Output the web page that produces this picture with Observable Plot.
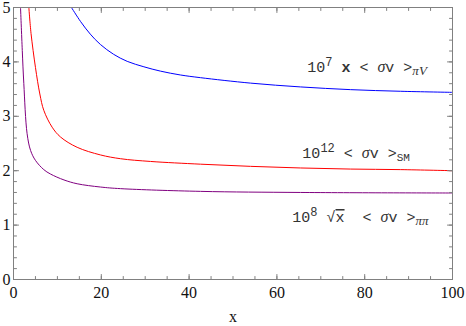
<!DOCTYPE html>
<html><head><meta charset="utf-8">
<script src="https://cdn.jsdelivr.net/npm/d3@7"></script>
<script src="https://cdn.jsdelivr.net/npm/@observablehq/plot@0.6"></script>
<style>body{margin:0;background:#fff} svg{display:block}</style>
</head><body><div id="chart"></div>
<script>
// Curve values
const blueX = [13.2, 15.3, 17.5, 19.8, 22.8, 25.9, 29.7, 33.5, 38, 42.6, 54, 65.4, 76.8, 88.2, 100];
const blueY = [5.0, 4.74, 4.51, 4.32, 4.14, 4.01, 3.91, 3.83, 3.76, 3.71, 3.61, 3.54, 3.49, 3.46, 3.44];
const redX = [3.5, 4.0, 5.0, 6.0, 6.9, 8.8, 10.7, 14.5, 19.8, 24.4, 31.2, 42.6, 54, 65.4, 76.8, 88.2, 100];
const redY = [5.0, 4.52, 3.90, 3.41, 3.11, 2.80, 2.62, 2.43, 2.29, 2.22, 2.17, 2.12, 2.08, 2.05, 2.03, 2.02, 2.0];
const purpleX = [1.6, 2.0, 2.35, 3.1, 3.9, 5.0, 6.9, 8.4, 11.5, 14.5, 19.8, 24.4, 42.6, 65.4, 100];
const purpleY = [5.0, 4.21, 3.60, 2.68, 2.37, 2.19, 2.02, 1.94, 1.83, 1.76, 1.70, 1.67, 1.62, 1.60, 1.59];

const seriesNames = ["nV", "SM", "pipi"];
const seriesColors = ["#0000ff", "#ff0000", "#800080"];

// Curve labels
const labelKeys = ["10^7 x <σv>_πV", "10^12 <σv>_SM", "10^8 √x <σv>_ππ"];
const labelX = [66.9, 65.8, 63.5];
const labelY = [3.90, 2.33, 1.145];
const labelParts = [
  [["10",""],["7","sup"],[" ",""],["x","bold"],[" < ",""],["σ","greek"],["v >",""],["πV","subit"]],
  [["10",""],["12","sup"],[" < ",""],["σ","greek"],["v >",""],["SM","sub"]],
  [["10",""],["8","sup"],[" ",""],["√",""],["x","over"],["  < ",""],["σ","greek"],["v >",""],["ππ","subit"]]
];

// Ticks
const xTicks = [0, 20, 40, 60, 80, 100];
const xMinor = [0,5,10,15,20,25,30,35,40,45,50,55,60,65,70,75,80,85,90,95,100];
const yTicks = [0, 1, 2, 3, 4, 5];
const yMinor = [0,0.2,0.4,0.6,0.8,1,1.2,1.4,1.6,1.8,2,2.2,2.4,2.6,2.8,3,3.2,3.4,3.6,3.8,4,4.2,4.4,4.6,4.8,5];

const curves = [];
[[blueX, blueY], [redX, redY], [purpleX, purpleY]].forEach(([xs, ys], i) =>
  xs.forEach((x, j) => curves.push({series: seriesNames[i], x, y: ys[j]})));
const labels = labelKeys.map((k, i) => ({key: k, x: labelX[i], y: labelY[i]}));

const tickShape = {draw(ctx, l) { ctx.moveTo(0, 0); ctx.lineTo(0, -l); }};
const frameColor = "#808080";
const tickMarks = (vals, len, side) => {
  const common = {length: len, anchor: "start", shape: tickShape, stroke: frameColor, strokeWidth: 1};
  if (side === "bottom") return Plot.vector(vals, {x: d => d, y: () => 0, rotate: 0, ...common});
  if (side === "top") return Plot.vector(vals, {x: d => d, y: () => 5, rotate: 180, ...common});
  if (side === "left") return Plot.vector(vals, {y: d => d, x: () => 0, rotate: 90, ...common});
  return Plot.vector(vals, {y: d => d, x: () => 100, rotate: -90, ...common});
};

const svg = Plot.plot({
  width: 466, height: 326,
  marginLeft: 13, marginRight: 14, marginTop: 7, marginBottom: 47,
  x: {domain: [0, 100]},
  y: {domain: [0, 5]},
  color: {domain: seriesNames, range: seriesColors},
  style: {background: "#fff"},
  marks: [
    Plot.line(curves, {x: "x", y: "y", z: "series", stroke: "series", strokeWidth: 1, curve: "catmull-rom", clip: true}),
    Plot.frame({stroke: frameColor, strokeWidth: 1}),
    tickMarks(xMinor, 3, "bottom"), tickMarks(xTicks, 5, "bottom"),
    tickMarks(xMinor, 3, "top"), tickMarks(xTicks, 5, "top"),
    tickMarks(yMinor, 3, "left"), tickMarks(yTicks, 5, "left"),
    tickMarks(yMinor, 3, "right"), tickMarks(yTicks, 5, "right"),
    Plot.axisX({ticks: xTicks, tickSize: 0, tickPadding: 7, tickFormat: "d", label: null, fontSize: 16, fontFamily: "Liberation Serif", color: "#111"}),
    Plot.axisY({ticks: yTicks, tickSize: 0, tickPadding: 3, tickFormat: "d", label: null, fontSize: 16, fontFamily: "Liberation Serif", color: "#111"}),
    Plot.text(["x"], {frameAnchor: "bottom", dy: 42, fontSize: 16, fontFamily: "Liberation Serif", fill: "#111"}),
    Plot.text(labels, {x: "x", y: "y", text: "key", textAnchor: "start", fontSize: 15, fontFamily: "Liberation Mono", fill: "#333"})
  ]
});

// Rich text: superscripts, subscripts, overline
const partsByKey = new Map(labelKeys.map((k, i) => [k, labelParts[i]]));
d3.select(svg).selectAll("text").filter(function() { return partsByKey.has(this.textContent); })
  .each(function() {
    const parts = partsByKey.get(this.textContent);
    const el = d3.select(this).text(null).attr("dy", null).style("white-space", "pre");
    let shift = 0;
    for (const [t, kind] of parts) {
      const ts = el.append("tspan").text(t);
      let target = 0;
      if (kind === "sup") { target = -6; ts.attr("font-size", 12); }
      if (kind === "sub" || kind === "subit") { target = 3; ts.attr("font-size", 11); }
      if (kind === "subit") ts.attr("font-style", "italic").attr("font-family", "Liberation Serif").attr("font-size", 13);
      if (kind === "greek") ts.attr("font-style", "italic").attr("font-family", "Liberation Serif").attr("font-size", 16);
      if (kind === "bold") ts.attr("font-weight", "bold");
      if (kind === "over") ts.style("text-decoration", "overline");
      if (target !== shift) { ts.attr("dy", target - shift); shift = target; }
    }
  });

document.getElementById("chart").appendChild(svg);
</script>
</body></html>
